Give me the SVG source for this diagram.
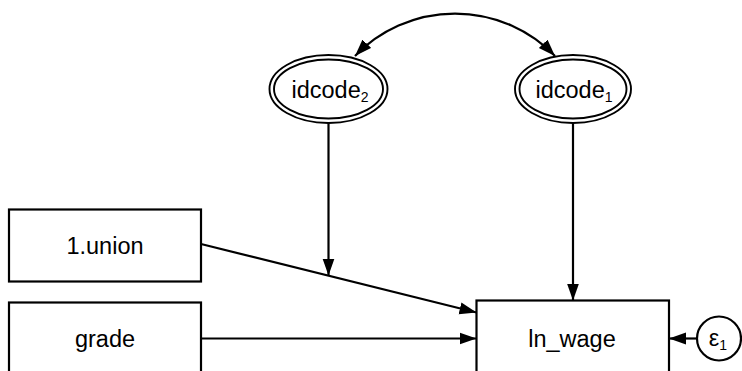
<svg xmlns="http://www.w3.org/2000/svg" width="742" height="371" viewBox="0 0 742 371">
<style>
.box{fill:#fff;stroke:#000;stroke-width:2.2}
.ell{fill:none;stroke:#000;stroke-width:1.9}
.lbl{font-family:"Liberation Sans",Arial,Helvetica,sans-serif;font-size:23.5px;fill:#000;text-anchor:middle}
.sub{font-size:14px}
.edge{fill:none;stroke:#000;stroke-width:2.2}
</style>
<defs>
<marker id="ah" markerUnits="userSpaceOnUse" markerWidth="18" markerHeight="14" refX="17" refY="6.5" orient="auto-start-reverse">
<path d="M0,0.5 L17,6.5 L0,12.5 z" fill="#000"/>
</marker>
</defs>
<g id="edges">
<path class="edge" d="M355,56 A139,139 0 0 1 555,56" marker-start="url(#ah)" marker-end="url(#ah)"/>
<line class="edge" x1="328.5" y1="123" x2="328.5" y2="275.5" marker-end="url(#ah)"/>
<line class="edge" x1="573" y1="123" x2="573" y2="300.5" marker-end="url(#ah)"/>
<line class="edge" x1="201" y1="244" x2="476.5" y2="312.5" marker-end="url(#ah)"/>
<line class="edge" x1="201" y1="338.5" x2="476.5" y2="338.5" marker-end="url(#ah)"/>
<line class="edge" x1="697" y1="338.5" x2="669" y2="338.5" marker-end="url(#ah)"/>
</g>
<g id="idcode2">
<ellipse class="ell" cx="328.5" cy="89" rx="59" ry="34"/>
<ellipse class="ell" cx="328.5" cy="89" rx="54.5" ry="29.5"/>
<text class="lbl" x="330" y="98">idcode<tspan class="sub" dy="4">2</tspan></text>
</g>
<g id="idcode1">
<ellipse class="ell" cx="573" cy="89" rx="58" ry="34"/>
<ellipse class="ell" cx="573" cy="89" rx="53.5" ry="29.5"/>
<text class="lbl" x="574" y="98">idcode<tspan class="sub" dy="4">1</tspan></text>
</g>
<g id="union">
<rect class="box" x="9" y="209.5" width="192" height="72"/>
<text class="lbl" x="105" y="254">1.union</text>
</g>
<g id="grade">
<rect class="box" x="9" y="302.5" width="192" height="72"/>
<text class="lbl" x="105" y="347">grade</text>
</g>
<g id="ln_wage">
<rect class="box" x="476.5" y="300.5" width="192.5" height="76"/>
<text class="lbl" x="572" y="347">ln_wage</text>
</g>
<g id="e1">
<circle class="box" cx="719" cy="338.5" r="22"/>
<text class="lbl" x="718" y="346">ε<tspan class="sub" dy="4">1</tspan></text>
</g>
</svg>
